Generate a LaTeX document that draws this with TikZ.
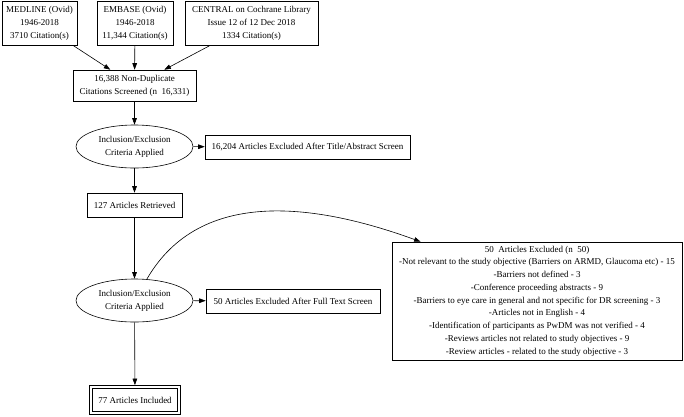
\documentclass[tikz,border=0pt]{standalone}
\usepackage{fontspec}
\setmainfont{Liberation Serif}
\usetikzlibrary{arrows.meta,shapes.geometric}

\begin{document}
\begin{tikzpicture}[x=1pt,y=-1pt,
  font=\fontsize{9}{12.75}\selectfont,
  box/.style={draw,line width=0.6pt,align=center,inner sep=0pt},
  crit/.style={draw,ellipse,line width=0.6pt,align=center,inner sep=0pt,minimum width=117pt,minimum height=43pt},
  arr/.style={-{Triangle[length=6.5pt,width=4.6pt]},line width=0.6pt}]
\useasboundingbox (0,0) rectangle (684,416);
\node[box,minimum width=75pt,minimum height=44pt] (medline) at (39.5,23.5) {MEDLINE (Ovid)\\1946-2018\\3710 Citation(s)};
\node[box,minimum width=76pt,minimum height=44pt] (embase) at (135,23.5) {EMBASE (Ovid)\\1946-2018\\11,344 Citation(s)};
\node[box,minimum width=133pt,minimum height=44pt] (central) at (251.5,23.5) {CENTRAL on Cochrane Library\\Issue 12 of 12 Dec 2018\\1334 Citation(s)};
\node[box,minimum width=123pt,minimum height=31pt] (dup) at (134.5,85.5) {16,388 Non-Duplicate\\Citations Screened (n\ \ 16,331)};
\node[crit] (crit1) at (134.5,146.5) {Inclusion/Exclusion\\Criteria Applied};
\node[box,minimum width=205pt,minimum height=24pt] (excl1) at (307.5,147) {16,204 Articles Excluded After Title/Abstract Screen};
\node[box,minimum width=95pt,minimum height=24pt] (ret) at (134.5,205) {127 Articles Retrieved};
\node[crit] (crit2) at (134.5,300.5) {Inclusion/Exclusion\\Criteria Applied};
\node[box,minimum width=174pt,minimum height=24pt] (excl2) at (293,301) {50 Articles Excluded After Full Text Screen};
\node[box,minimum width=290pt,minimum height=118pt] (excl3) at (537,301) {50\ \ Articles Excluded (n\ \ 50)\\-Not relevant to the study objective (Barriers on ARMD, Glaucoma etc) - 15\\-Barriers not defined - 3\\-Conference proceeding abstracts - 9\\-Barriers to eye care in general and not specific for DR screening - 3\\-Articles not in English - 4\\-Identification of participants as PwDM was not verified - 4\\-Reviews articles not related to study objectives - 9\\-Review articles - related to the study objective - 3};
\node[box,double,double distance=2pt,minimum width=88pt,minimum height=26pt] (incl) at (135,400) {77 Articles Included};
\draw[arr] (medline) -- (dup);
\draw[arr] (embase) -- (dup);
\draw[arr] (central) -- (dup);
\draw[arr] (dup) -- (crit1);
\draw[arr] (crit1) -- (excl1);
\draw[arr] (crit1) -- (ret);
\draw[arr] (ret) -- (crit2);
\draw[arr] (crit2) -- (excl2);
\draw[arr] (crit2.60) to[out=60,in=160] (excl3.153);
\draw[arr,shorten >=1.6pt] (crit2) -- (incl);
\end{tikzpicture}
\end{document}
